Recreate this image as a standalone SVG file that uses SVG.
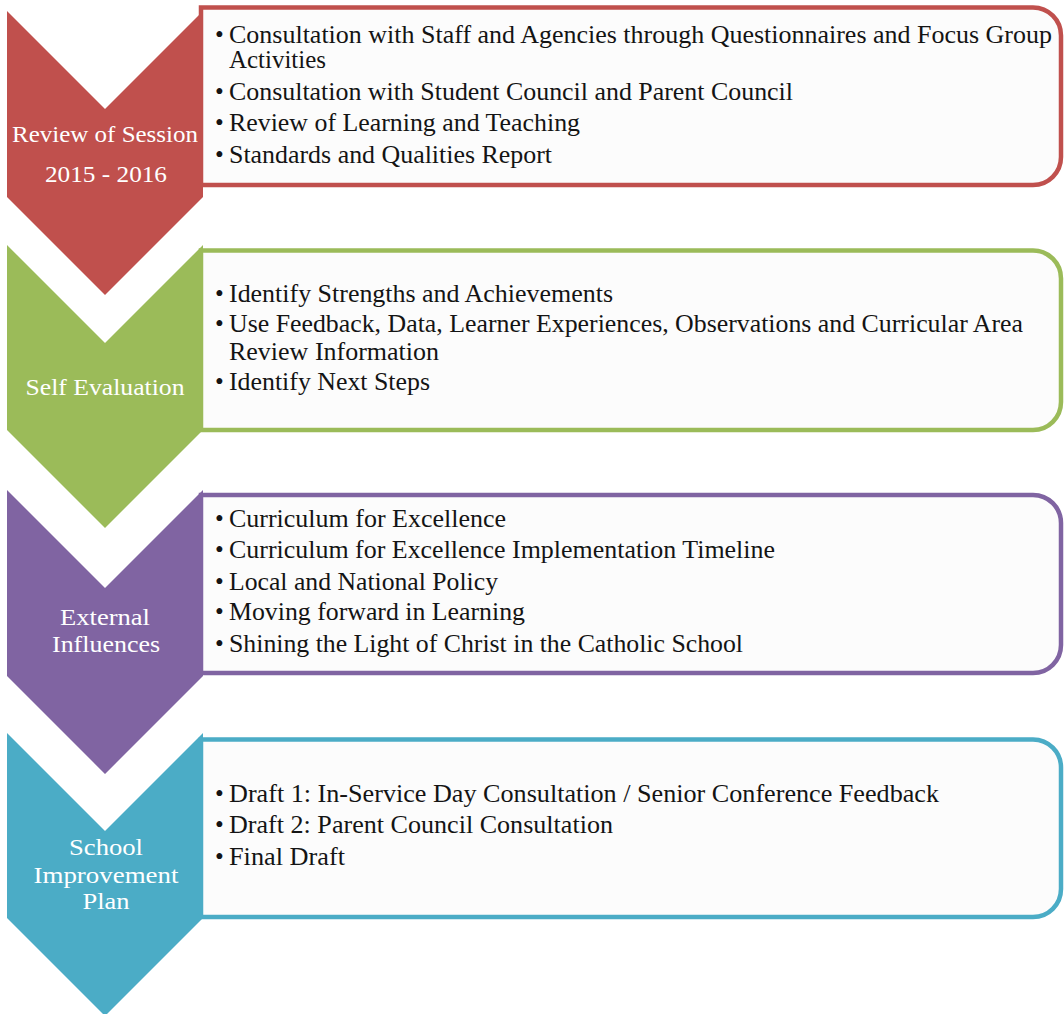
<svg xmlns="http://www.w3.org/2000/svg" width="1064" height="1014" viewBox="0 0 1064 1014">
<style>
.box{fill:#fcfcfc;stroke-width:4.5}
.t{font-family:"Liberation Serif","Times New Roman",serif;font-size:25px;fill:#141414}
.b{font-family:"Liberation Serif","Times New Roman",serif;font-size:25px;fill:#141414}
.lab{font-family:"Liberation Serif","Times New Roman",serif;font-size:24px;fill:#ffffff;text-anchor:middle}
.red{fill:#c0504d}.redS{stroke:#c0504d}
.green{fill:#9bbb59}.greenS{stroke:#9bbb59}
.purple{fill:#8064a2}.purpleS{stroke:#8064a2}
.blue{fill:#4bacc6}.blueS{stroke:#4bacc6}
</style>
<rect width="1064" height="1014" fill="#ffffff"/>
<g id="connectors"/>
<g id="node-review">
<path class="box redS" d="M201,7.5 H1033 A28,28 0 0 1 1061,35.5 V157 A28,28 0 0 1 1033,185 H201 Z"/>
<polygon class="red" points="7,11 105,109 203,11 203,197 105,295 7,197"/>
<text class="lab" x="105" y="142" textLength="186" lengthAdjust="spacingAndGlyphs">Review of Session</text>
<text class="lab" x="106" y="182" textLength="122" lengthAdjust="spacingAndGlyphs">2015 - 2016</text>
<text class="b" x="215" y="43">•</text><text class="t" x="229" y="43" textLength="823" lengthAdjust="spacingAndGlyphs">Consultation with Staff and Agencies through Questionnaires and Focus Group</text>
<text class="t" x="229" y="68" textLength="97" lengthAdjust="spacingAndGlyphs">Activities</text>
<text class="b" x="215" y="100">•</text><text class="t" x="229" y="100" textLength="564" lengthAdjust="spacingAndGlyphs">Consultation with Student Council and Parent Council</text>
<text class="b" x="215" y="131">•</text><text class="t" x="229" y="131" textLength="351" lengthAdjust="spacingAndGlyphs">Review of Learning and Teaching</text>
<text class="b" x="215" y="163">•</text><text class="t" x="229" y="163" textLength="323" lengthAdjust="spacingAndGlyphs">Standards and Qualities Report</text>
</g>
<g id="node-self-evaluation">
<path class="box greenS" d="M201,250.5 H1033 A28,28 0 0 1 1061,278.5 V402 A28,28 0 0 1 1033,430 H201 Z"/>
<polygon class="green" points="7,245 105,343 203,245 203,430 105,528 7,430"/>
<text class="lab" x="105" y="395" textLength="159" lengthAdjust="spacingAndGlyphs">Self Evaluation</text>
<text class="b" x="215" y="302">•</text><text class="t" x="229" y="302" textLength="384" lengthAdjust="spacingAndGlyphs">Identify Strengths and Achievements</text>
<text class="b" x="215" y="332">•</text><text class="t" x="229" y="332" textLength="794" lengthAdjust="spacingAndGlyphs">Use Feedback, Data, Learner Experiences, Observations and Curricular Area</text>
<text class="t" x="229" y="360" textLength="210" lengthAdjust="spacingAndGlyphs">Review Information</text>
<text class="b" x="215" y="390">•</text><text class="t" x="229" y="390" textLength="201" lengthAdjust="spacingAndGlyphs">Identify Next Steps</text>
</g>
<g id="node-external-influences">
<path class="box purpleS" d="M201,495 H1033 A28,28 0 0 1 1061,523 V645 A28,28 0 0 1 1033,673 H201 Z"/>
<polygon class="purple" points="7,490 105,588 203,490 203,676 105,774 7,676"/>
<text class="lab" x="105" y="625" textLength="90" lengthAdjust="spacingAndGlyphs">External</text>
<text class="lab" x="106" y="652" textLength="108" lengthAdjust="spacingAndGlyphs">Influences</text>
<text class="b" x="215" y="527">•</text><text class="t" x="229" y="527" textLength="277" lengthAdjust="spacingAndGlyphs">Curriculum for Excellence</text>
<text class="b" x="215" y="558">•</text><text class="t" x="229" y="558" textLength="546" lengthAdjust="spacingAndGlyphs">Curriculum for Excellence Implementation Timeline</text>
<text class="b" x="215" y="590">•</text><text class="t" x="229" y="590" textLength="269" lengthAdjust="spacingAndGlyphs">Local and National Policy</text>
<text class="b" x="215" y="620">•</text><text class="t" x="229" y="620" textLength="296" lengthAdjust="spacingAndGlyphs">Moving forward in Learning</text>
<text class="b" x="215" y="652">•</text><text class="t" x="229" y="652" textLength="514" lengthAdjust="spacingAndGlyphs">Shining the Light of Christ in the Catholic School</text>
</g>
<g id="node-school-improvement-plan">
<path class="box blueS" d="M201,739.5 H1033 A28,28 0 0 1 1061,767.5 V889 A28,28 0 0 1 1033,917 H201 Z"/>
<polygon class="blue" points="7,733 105,831 203,733 203,918 105,1016 7,918"/>
<text class="lab" x="106" y="855" textLength="74" lengthAdjust="spacingAndGlyphs">School</text>
<text class="lab" x="106" y="883" textLength="145" lengthAdjust="spacingAndGlyphs">Improvement</text>
<text class="lab" x="106" y="909" textLength="47" lengthAdjust="spacingAndGlyphs">Plan</text>
<text class="b" x="215" y="802">•</text><text class="t" x="229" y="802" textLength="710" lengthAdjust="spacingAndGlyphs">Draft 1: In-Service Day Consultation / Senior Conference Feedback</text>
<text class="b" x="215" y="833">•</text><text class="t" x="229" y="833" textLength="384" lengthAdjust="spacingAndGlyphs">Draft 2: Parent Council Consultation</text>
<text class="b" x="215" y="865">•</text><text class="t" x="229" y="865" textLength="116" lengthAdjust="spacingAndGlyphs">Final Draft</text>
</g>
</svg>
